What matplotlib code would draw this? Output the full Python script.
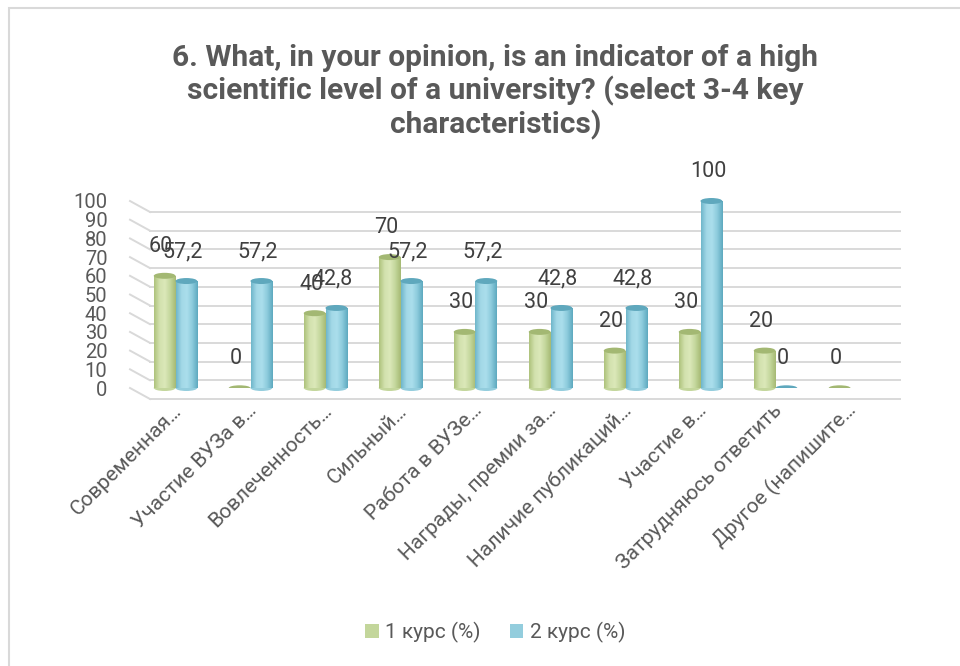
import matplotlib
matplotlib.use('Agg')
import matplotlib.pyplot as plt
import matplotlib.transforms as mtransforms
from matplotlib.colors import LinearSegmentedColormap
from matplotlib.patches import Ellipse, Patch, Rectangle
import numpy as np

categories = ['Современная…', 'Участие ВУЗа в…', 'Вовлеченность…', 'Сильный…',
              'Работа в ВУЗе…', 'Награды, премии за…', 'Наличие публикаций…',
              'Участие в…', 'Затрудняюсь ответить', 'Другое (напишите…']
course1 = [60, 0, 40, 70, 30, 30, 20, 30, 20, 0]
course2 = [57.2, 57.2, 42.8, 57.2, 57.2, 42.8, 42.8, 100, 0, np.nan]
series_names = ['1 курс (%)', '2 курс (%)']
yticks = [0, 10, 20, 30, 40, 50, 60, 70, 80, 90, 100]

title = ('6. What, in your opinion, is an indicator of a high\n'
         'scientific level of a university? (select 3-4 key\n'
         'characteristics)')

plt.rcParams['font.family'] = ['Roboto', 'DejaVu Sans']

green = '#c3d69b'
blue = '#93cddd'
green_cmap = LinearSegmentedColormap.from_list('g', ['#aec27c', '#d2e1ad', '#dbe8b9', '#c3d69b', '#a6ba74'])
blue_cmap = LinearSegmentedColormap.from_list('b', ['#6fb6ca', '#a2d8e7', '#abdeec', '#8ccbdc', '#5ea9bf'])
green_top = '#a3b873'
blue_top = '#5fa8bd'

fig = plt.figure(figsize=(9.6, 6.66), dpi=100)
ax = fig.add_axes([138 / 960, 278 / 666, 750 / 960, 187 / 666])
ax.set_xlim(-0.5, 9.5)
ax.set_ylim(0, 100)

# back wall gridlines (shifted like the 3D chart)
back = mtransforms.offset_copy(ax.transData, fig=fig, x=12, y=-11, units='dots')
side = mtransforms.offset_copy(ax.transData, fig=fig, x=-8, y=0, units='dots')
for v in yticks:
    ax.plot([-0.5, 9.5], [v, v], color='#d9d9d9', lw=1.4, transform=back,
            clip_on=False, zorder=0)
    p0 = side.transform((-0.5, v))
    p1 = back.transform((-0.5, v))
    ax.plot([p0[0], p1[0]], [p0[1], p1[1]], color='#d9d9d9', lw=1.4,
            transform=None, clip_on=False, zorder=0)

x = np.arange(len(categories))
w = 0.29
cap_h = 3.2

for vals, off, cmap, face, top, in [(course1, -w / 2, green_cmap, green, green_top),
                                    (course2, w / 2, blue_cmap, blue, blue_top)]:
    for xi, v in zip(x, vals):
        if np.isnan(v):
            continue
        cx = xi + off
        if v == 0:
            ax.add_patch(Ellipse((cx, 0), w, cap_h * 0.9, facecolor=top,
                                 edgecolor='none', zorder=3))
        else:
            ax.add_patch(Ellipse((cx, 0), w, cap_h, facecolor=face,
                                 edgecolor='none', zorder=2, clip_on=False))
            bar = ax.bar(cx, v, width=w, color=face, zorder=3)[0]
            grad = np.linspace(0, 1, 64).reshape(1, -1)
            im = ax.imshow(grad, extent=[cx - w / 2, cx + w / 2, 0, v],
                           aspect='auto', cmap=cmap, zorder=3.5)
            im.set_clip_path(bar)
            ax.add_patch(Ellipse((cx, v), w, cap_h, facecolor=top,
                                 edgecolor='none', zorder=4, clip_on=False))
        lbl = f'{v:g}'.replace('.', ',')
        ax.annotate(lbl, (cx, v), xytext=(-2.5, 21), textcoords='offset points',
                    ha='center', va='center', fontsize=15.5, color='#404040',
                    zorder=5, annotation_clip=False)

ax.set_xlim(-0.5, 9.5)
ax.set_ylim(0, 100)

for xi, name in zip(x, categories):
    ax.annotate(name, (xi, 0), xytext=(5, -17), textcoords='offset points',
                ha='right', va='baseline', rotation=45, rotation_mode='anchor',
                fontsize=15, color='#595959', annotation_clip=False)

ax.set_xticks([])
ax.set_yticks(yticks)
ax.set_yticklabels([str(t) for t in yticks], fontsize=14.5, color='#595959')
ax.tick_params(axis='y', length=0, pad=22)
for s in ax.spines.values():
    s.set_visible(False)
ax.patch.set_alpha(0)

fig.text(0.516, 0.862, title, ha='center', va='center', fontsize=21.5,
         fontweight='bold', color='#595959', linespacing=1.18)

handles = [Patch(facecolor=green, edgecolor='none'), Patch(facecolor=blue, edgecolor='none')]
fig.legend(handles, series_names, loc='center', bbox_to_anchor=(0.516, 0.05), ncol=2,
           frameon=False, fontsize=15, labelcolor='#595959', handlelength=0.65,
           handleheight=0.65, handletextpad=0.3, columnspacing=1.4)

fig.patches.append(Rectangle((9 / 960, -0.05), 1.2, 1.05 - 8 / 666, transform=fig.transFigure,
                             fill=False, edgecolor='#d9d9d9', lw=1.5))

fig.savefig('out.png', dpi=100)
